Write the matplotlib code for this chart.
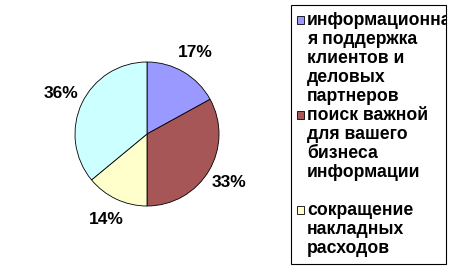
import matplotlib
matplotlib.use("Agg")
import matplotlib.pyplot as plt
from matplotlib.patches import Rectangle

values = [17, 33, 14, 36]
colors = ["#9999FF", "#A65656", "#FFFFCC", "#CCFFFF"]
legend_labels = [
    "информационна\nя поддержка\nклиентов и\nделовых\nпартнеров",
    "поиск важной\nдля вашего\nбизнеса\nинформации\n",
    "сокращение\nнакладных\nрасходов",
]

W, H = 451, 270
fig = plt.figure(figsize=(W / 100, H / 100), dpi=100)
fig.patch.set_facecolor("white")
plt.rcParams["font.family"] = ["Liberation Sans", "DejaVu Sans"]

cx, cy, r = 147, 134, 72
ax = fig.add_axes([(cx - r) / W, (H - cy - r) / H, 2 * r / W, 2 * r / H])
wedges, texts, autotexts = ax.pie(
    values, colors=colors, startangle=90, counterclock=False,
    autopct="%1.0f%%", pctdistance=1.32,
    wedgeprops=dict(edgecolor="black", linewidth=0.6),
    textprops=dict(fontsize=12.5, fontweight="bold", color="black"),
)
for t in autotexts:
    t.set_clip_on(False)
ax.set_xlim(-1, 1)
ax.set_ylim(-1, 1)
ax.set_aspect("equal")
ax.axis("off")

def fx(x):
    return x / W

def fy(y):
    return 1 - y / H

# legend box
box = Rectangle((fx(291), fy(264)), fx(446) - fx(291), fy(5) - fy(264),
                transform=fig.transFigure, facecolor="white",
                edgecolor="black", linewidth=0.8)
fig.add_artist(box)

line_h = 19
first_center = 20
k = 0
for i, lab in enumerate(legend_labels):
    center = first_center + line_h * k
    sq = Rectangle((fx(297), fy(center + 4)), 7 / W, 8 / H,
                   transform=fig.transFigure, facecolor=colors[i],
                   edgecolor="black", linewidth=0.6)
    fig.add_artist(sq)
    for line in lab.split("\n"):
        c = first_center + line_h * k
        if line:
            txt = fig.text(fx(307), fy(c + 5), line, ha="left", va="baseline",
                           fontsize=12.7, fontweight="bold")
            txt.set_clip_path(box)
        k += 1

fig.savefig("out.png", dpi=100)
